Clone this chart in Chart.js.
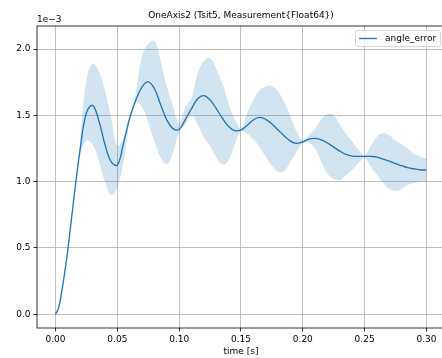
<!DOCTYPE html>
<html>
<head>
<meta charset="utf-8">
<script src="https://cdn.jsdelivr.net/npm/chart.js@4/dist/chart.umd.min.js"></script>
<style>
  html, body { margin: 0; padding: 0; background: #fff; overflow: hidden; }
  #wrap { position: relative; width: 445px; height: 358px; }
</style>
</head>
<body>
<div id="wrap"><canvas id="c"></canvas></div>
<script>
// ---- data (values in units of 1e-3) ----
const titleText = "OneAxis2 (Tsit5, Measurement{Float64})";
const seriesName = "angle_error";
const xAxisLabel = "time [s]";
const yOffsetLabel = "1e\u22123";
const xTickValues = [0.00, 0.05, 0.10, 0.15, 0.20, 0.25, 0.30];
const yTickValues = [0.0, 0.5, 1.0, 1.5, 2.0];

const times = [0.000,0.0025,0.005,0.0075,0.010,0.015,0.020,0.025,0.030,0.035,0.040,0.045,
  0.050,0.055,0.060,0.065,0.070,0.075,0.080,0.085,0.090,0.095,
  0.100,0.105,0.110,0.115,0.120,0.125,0.130,0.135,0.140,0.145,
  0.150,0.155,0.160,0.165,0.170,0.175,0.180,0.185,0.190,0.195,
  0.200,0.205,0.210,0.215,0.220,0.225,0.230,0.235,0.240,0.245,
  0.250,0.255,0.260,0.265,0.270,0.275,0.280,0.285,0.290,0.295,0.300];

const meanVals = [0, 0.05, 0.17, 0.32, 0.49, 0.89, 1.25, 1.52, 1.575, 1.46, 1.28, 1.15,
  1.125, 1.29, 1.48, 1.615, 1.715, 1.752, 1.70, 1.58, 1.465, 1.40,
  1.395, 1.47, 1.55, 1.625, 1.648, 1.615, 1.551, 1.478, 1.416, 1.385,
  1.39, 1.425, 1.465, 1.484, 1.47, 1.435, 1.39, 1.345, 1.305, 1.288,
  1.30, 1.32, 1.326, 1.315, 1.29, 1.26, 1.23, 1.205, 1.193, 1.19,
  1.191, 1.19, 1.185, 1.17, 1.155, 1.135, 1.12, 1.105, 1.097, 1.09, 1.087];

const upperVals = [0, 0.05, 0.17, 0.32, 0.49, 0.89, 1.33, 1.77, 1.89, 1.83, 1.69, 1.48,
  1.27, 1.33, 1.50, 1.68, 1.95, 2.04, 2.06, 1.91, 1.72, 1.57,
  1.44, 1.56, 1.63, 1.82, 1.91, 1.93, 1.85, 1.74, 1.59, 1.47,
  1.40, 1.52, 1.62, 1.69, 1.715, 1.72, 1.68, 1.60, 1.49, 1.38,
  1.31, 1.35, 1.40, 1.47, 1.51, 1.50, 1.43, 1.36, 1.30, 1.24,
  1.20, 1.27, 1.34, 1.365, 1.35, 1.31, 1.28, 1.25, 1.21, 1.19, 1.175];

const lowerVals = [0, 0.05, 0.17, 0.32, 0.49, 0.89, 1.20, 1.31, 1.28, 1.16, 1.00, 0.90,
  0.96, 1.15, 1.45, 1.60, 1.56, 1.44, 1.30, 1.18, 1.13, 1.22,
  1.37, 1.43, 1.50, 1.43, 1.33, 1.27, 1.18, 1.13, 1.16, 1.28,
  1.38, 1.36, 1.32, 1.26, 1.19, 1.12, 1.075, 1.08, 1.15, 1.22,
  1.29, 1.29, 1.25, 1.15, 1.06, 1.02, 1.01, 1.05, 1.09, 1.14,
  1.18, 1.11, 1.05, 0.99, 0.945, 0.93, 0.945, 0.975, 0.99, 1.0, 1.0];

// ---- styling ----
const FONT = '"DejaVu Sans", sans-serif';
const BLUE = '#1f77b4';

const pts = arr => times.map((t, i) => ({ x: t, y: arr[i] }));

const decor = {
  id: 'decor',
  afterDraw(chart) {
    const { ctx, chartArea: a } = chart;
    ctx.save();
    ctx.strokeStyle = '#000';
    ctx.lineWidth = 0.8;
    ctx.strokeRect(a.left, a.top, a.right - a.left, a.bottom - a.top);
    ctx.fillStyle = '#000';
    ctx.font = '9px ' + FONT;
    ctx.textBaseline = 'middle';
    ctx.textAlign = 'center';
    ctx.fillText(titleText, (a.left + a.right) / 2, 16);
    ctx.fillText(xAxisLabel, (a.left + a.right) / 2, 352);
    ctx.textAlign = 'left';
    ctx.fillText(yOffsetLabel, a.left, 20);
    // legend
    const bx = 355.5, by = 30.5, bw = 85, bh = 16, r = 2;
    ctx.beginPath();
    ctx.moveTo(bx + r, by);
    ctx.lineTo(bx + bw - r, by); ctx.quadraticCurveTo(bx + bw, by, bx + bw, by + r);
    ctx.lineTo(bx + bw, by + bh - r); ctx.quadraticCurveTo(bx + bw, by + bh, bx + bw - r, by + bh);
    ctx.lineTo(bx + r, by + bh); ctx.quadraticCurveTo(bx, by + bh, bx, by + bh - r);
    ctx.lineTo(bx, by + r); ctx.quadraticCurveTo(bx, by, bx + r, by);
    ctx.closePath();
    ctx.fillStyle = 'rgba(255,255,255,0.8)';
    ctx.fill();
    ctx.strokeStyle = '#cccccc';
    ctx.lineWidth = 0.8;
    ctx.stroke();
    ctx.strokeStyle = BLUE;
    ctx.lineWidth = 1.35;
    ctx.beginPath();
    ctx.moveTo(359, 38.5); ctx.lineTo(377, 38.5);
    ctx.stroke();
    ctx.fillStyle = '#000';
    ctx.textAlign = 'left';
    ctx.fillText(seriesName, 385, 38.5);
    ctx.restore();
  }
};

new Chart(document.getElementById('c'), {
  type: 'line',
  data: {
    datasets: [
      { label: seriesName, data: pts(meanVals), borderColor: BLUE, borderWidth: 1.35,
        pointRadius: 0, fill: false, tension: 0.4, order: 0 },
      { label: 'upper', data: pts(upperVals), borderWidth: 0, borderColor: 'rgba(0,0,0,0)',
        backgroundColor: 'rgba(31,119,180,0.2)', pointRadius: 0, fill: '+1', tension: 0.4, order: 1 },
      { label: 'lower', data: pts(lowerVals), borderWidth: 0, borderColor: 'rgba(0,0,0,0)',
        pointRadius: 0, fill: false, tension: 0.4, order: 2 }
    ]
  },
  options: {
    responsive: true,
    maintainAspectRatio: false,
    animation: false,
    layout: { padding: { top: 26, left: 0, right: 0, bottom: 0 } },
    plugins: { legend: { display: false }, title: { display: false }, tooltip: { enabled: false } },
    scales: {
      x: {
        type: 'linear', min: -0.015, max: 0.315,
        afterFit(s) { s.height = 30; },
        afterBuildTicks(s) { s.ticks = xTickValues.map(v => ({ value: v })); },
        ticks: { callback: v => v.toFixed(2), font: { family: FONT, size: 9 }, color: '#000', padding: 3, maxRotation: 0, autoSkip: false },
        grid: { color: '#b0b0b0', lineWidth: 0.8, tickColor: '#000', tickLength: 3.5, tickWidth: 0.8 },
        border: { display: false }
      },
      y: {
        type: 'linear', min: -0.1035, max: 2.1735,
        afterFit(s) { s.width = 37; },
        afterBuildTicks(s) { s.ticks = yTickValues.map(v => ({ value: v })); },
        ticks: { callback: v => v.toFixed(1), font: { family: FONT, size: 9 }, color: '#000', padding: 3, autoSkip: false },
        grid: { color: '#b0b0b0', lineWidth: 0.8, tickColor: '#000', tickLength: 3.5, tickWidth: 0.8 },
        border: { display: false }
      }
    }
  },
  plugins: [decor]
});
</script>
</body>
</html>
